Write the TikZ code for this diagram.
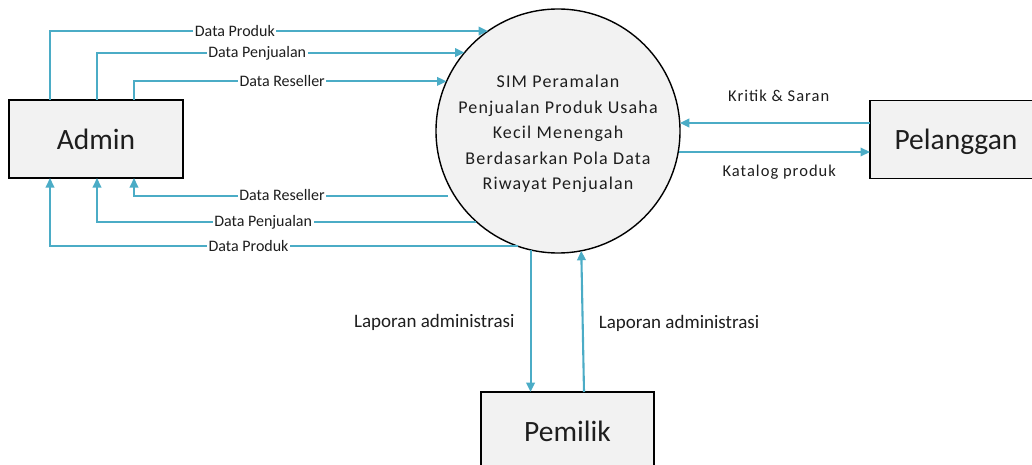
\documentclass[tikz,border=0pt]{standalone}
\usepackage{fontspec}
\setmainfont{Carlito}
\newfontfamily\spacedfont[LetterSpace=6.5]{Carlito}
\newfontfamily\widefont[LetterSpace=6.3]{Carlito}
\usetikzlibrary{arrows.meta}
\definecolor{flowblue}{RGB}{75,172,198}
\definecolor{boxgray}{RGB}{242,242,242}
\definecolor{ink}{RGB}{30,30,30}

\begin{document}
\begin{tikzpicture}[x=1pt,y=-1pt,
  entity/.style={draw=black, line width=1.7pt, fill=boxgray, minimum width=174pt,
    minimum height=78pt, inner sep=0pt, outer sep=0pt, text=ink, text depth=0pt,
    font=\fontsize{29.5}{34}\selectfont},
  process/.style={circle, draw=black, line width=1.4pt, fill=boxgray,
    minimum size=244pt, inner sep=0pt, outer sep=0pt},
  flow/.style={draw=flowblue, line width=2.1pt, -{Triangle[length=9.5pt,width=8.5pt]}},
  lbl/.style={fill=white, inner sep=1.5pt, text=ink, text height=10.3pt, text depth=0pt,
    font=\fontsize{16}{19}\selectfont},
  note/.style={inner sep=0pt, anchor=base, text=ink},
  tracked/.style={font=\widefont\fontsize{16.5}{20}\selectfont},
  report/.style={font=\fontsize{19}{22}\selectfont},
]
\useasboundingbox (0,0) rectangle (1032,465);

% external entities
\node[entity] (admin) at (96,139) {Admin};
\node[entity, minimum width=172pt] (pel) at (956,139.5) {Pelanggan};
\node[entity, minimum width=173pt] (pem) at (567.5,431) {Pemilik};

% the process
\node[process, label={[align=center, text=ink, yshift=-3pt,
    font=\spacedfont\fontsize{18}{25.6}\selectfont]center:SIM Peramalan\\Penjualan Produk Usaha\\Kecil Menengah\\Berdasarkan Pola Data\\Riwayat Penjualan}]
  (proc) at (558,131) {};

% Admin -> process
\draw[flow] ([xshift=41pt]admin.north west) |- node[lbl, pos=0.711] {Data Produk} (proc.125);
\draw[flow] ([xshift=88pt]admin.north west) |- node[lbl, pos=0.718] {Data Penjualan} (proc.140.3);
\draw[flow] ([xshift=125pt]admin.north west) |- node[lbl, pos=0.737] {Data Reseller} (proc.156.8);

% process -> Admin
\draw[flow] ([xshift=-7pt]proc.212.8) -| node[lbl, pos=0.264] {Data Reseller} ([xshift=125pt]admin.south west);
\draw[flow] (proc.228.9) -| node[lbl, pos=0.281] {Data Penjualan} ([xshift=88pt]admin.south west);
\draw[flow] (proc.251.95) -| node[lbl, pos=0.288] {Data Produk} ([xshift=41pt]admin.south west);

% Pelanggan <-> process
\coordinate (kritik) at ([yshift=16.5pt]pel.west);
\coordinate (katalog) at ([yshift=-12.5pt]pel.west);
\draw[flow] (kritik) -- node[note, tracked, pos=0.48, yshift=21.7pt] {Kritik \& Saran} (proc.3.76 |- kritik);
\draw[flow] (proc.-9.91 |- katalog) -- node[note, tracked, pos=0.526, yshift=-24.7pt] {Katalog produk} (katalog);

% process <-> Pemilik
\draw[flow] (proc.257.2) -- node[note, report, pos=0.549, anchor=base east, xshift=-15pt] {Laporan administrasi} (proc.257.2 |- pem.north);
\draw[flow] ([xshift=16.5pt]pem.north) -- node[note, report, pos=0.453, anchor=base west, xshift=15pt] {Laporan administrasi} (proc.281.35);
\end{tikzpicture}
\end{document}
